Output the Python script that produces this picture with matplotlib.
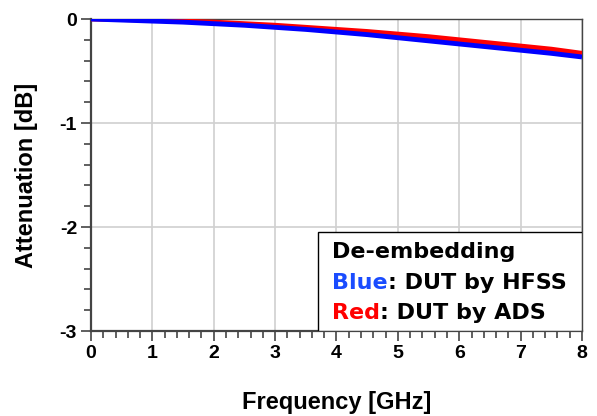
import matplotlib
matplotlib.use("Agg")
import matplotlib.pyplot as plt
from matplotlib.ticker import MultipleLocator
from matplotlib.patches import Rectangle

freq = [0, 0.5, 1, 1.5, 2, 2.5, 3, 3.5, 4, 4.5, 5, 5.5, 6, 6.5, 7, 7.5, 8]
hfss = [0, -0.01, -0.02, -0.03, -0.045, -0.06, -0.08, -0.10, -0.125, -0.15,
        -0.18, -0.21, -0.24, -0.27, -0.30, -0.33, -0.365]
ads = [0, -0.005, -0.01, -0.02, -0.03, -0.045, -0.06, -0.08, -0.10, -0.12,
       -0.145, -0.17, -0.20, -0.23, -0.26, -0.29, -0.33]
xticks = [0, 1, 2, 3, 4, 5, 6, 7, 8]
yticks = [0, -1, -2, -3]

fig = plt.figure(figsize=(5.97, 4.16), dpi=100)
ax = fig.add_axes([0.1524, 0.2043, 0.8225, 0.75])

ax.plot(freq, ads, color="#ff0000", lw=3.5, solid_capstyle="butt", zorder=3)
ax.plot(freq, hfss, color="#0000ff", lw=3.5, solid_capstyle="butt", zorder=4)

ax.set_xlim(0, 8)
ax.set_ylim(-3, 0)
ax.set_xticks(xticks)
ax.set_yticks(yticks)
ax.xaxis.set_minor_locator(MultipleLocator(0.2))
ax.yaxis.set_minor_locator(MultipleLocator(0.2))
ax.grid(True, which="major", color="#d0d0d0", lw=1.2)
ax.set_axisbelow(True)

tickfont = dict(family="Liberation Sans", weight="bold", size=14)
ax.set_xticklabels([str(v) for v in xticks], **tickfont)
ax.set_yticklabels([str(v) for v in yticks], **tickfont)
ax.tick_params(axis="both", which="major", direction="out", length=7, width=1.2,
               color="#444444", pad=3)
ax.tick_params(axis="both", which="minor", direction="out", length=5, width=1.2,
               color="#444444")

for s in ["left", "bottom"]:
    ax.spines[s].set_linewidth(1.6)
    ax.spines[s].set_color("#444444")
for s in ["top", "right"]:
    ax.spines[s].set_linewidth(1.0)
    ax.spines[s].set_color("#444444")

labfont = dict(family="Liberation Sans", weight="bold", size=17)
ax.set_xlabel("Frequency [GHz]", labelpad=21, **labfont)
ax.set_ylabel("Attenuation [dB]", labelpad=15.5, **labfont)

# legend-like box
bx0, by1 = 0.462, 0.317
ax.add_patch(Rectangle((bx0, 0), 1 - bx0, by1, transform=ax.transAxes,
                       facecolor="white", edgecolor="black", lw=1.0, zorder=10))
lf = dict(family=["DejaVu Sans"], size=16, weight="bold")
x0 = 0.491
ax.text(x0, 0.253, "De-embedding", transform=ax.transAxes, va="center",
        color="black", zorder=11, **lf)
t1 = ax.text(x0, 0.154, "Blue", transform=ax.transAxes, va="center",
             color="#1a4cff", zorder=11, **lf)
ax.annotate(": DUT by HFSS", xy=(1, 0), xycoords=t1, va="bottom", ha="left",
            color="black", zorder=11, **lf)
t2 = ax.text(x0, 0.058, "Red", transform=ax.transAxes, va="center",
             color="#ff0000", zorder=11, **lf)
ax.annotate(": DUT by ADS", xy=(1, 0), xycoords=t2, va="bottom", ha="left",
            color="black", zorder=11, **lf)

fig.savefig("out.png", dpi=100)
